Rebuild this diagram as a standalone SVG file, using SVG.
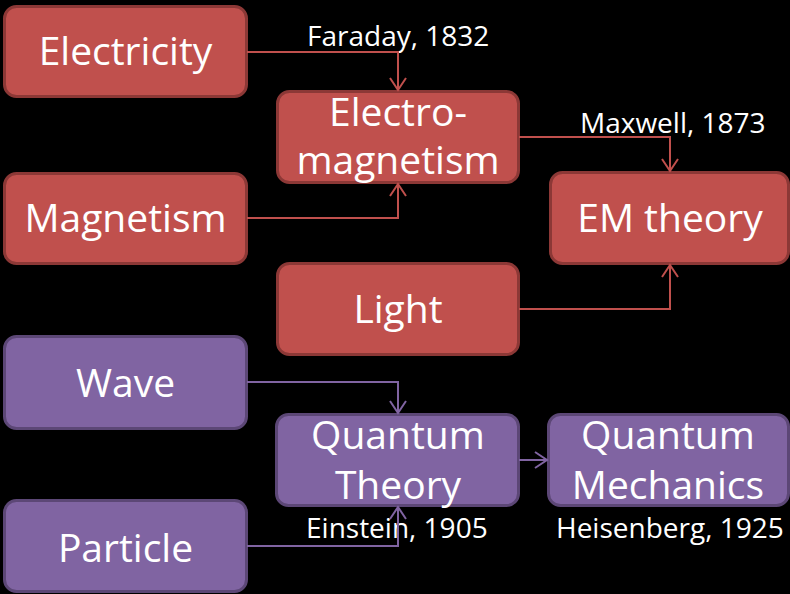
<svg xmlns="http://www.w3.org/2000/svg" width="790" height="594" viewBox="0 0 790 594">
<defs>
<style>
.red{fill:#C0504D;stroke:#8C3836;stroke-width:3}
.pur{fill:#8064A2;stroke:#5C4776;stroke-width:3}
.t{font-family:"Open Sans",Lato,sans-serif;font-size:39px;fill:#fff;text-anchor:middle;font-variant-ligatures:none}
.lab{font-family:"Open Sans",Lato,sans-serif;font-size:28px;fill:#fff}
.cr{fill:none;stroke:#C0504D;stroke-width:2}
.cp{fill:none;stroke:#8064A2;stroke-width:2}
</style>
<marker id="ar" viewBox="-14 -9 16 18" markerWidth="16" markerHeight="18" refX="0" refY="0" orient="auto" markerUnits="userSpaceOnUse">
<path d="M-12,-8 L0,0 L-12,8" fill="none" stroke="#C0504D" stroke-width="2"/>
</marker>
<marker id="ap" viewBox="-14 -9 16 18" markerWidth="16" markerHeight="18" refX="0" refY="0" orient="auto" markerUnits="userSpaceOnUse">
<path d="M-12,-8 L0,0 L-12,8" fill="none" stroke="#8064A2" stroke-width="2"/>
</marker>
</defs>
<rect width="790" height="594" fill="#000"/>
<g id="electricity"><rect class="red" x="4.5" y="6.5" width="242" height="90" rx="12"/><text class="t" x="125.5" y="65">Electricity</text></g>
<g id="electromagnetism"><rect class="red" x="277.5" y="91.5" width="241" height="91" rx="12"/><text class="t" x="398" y="126">Electro-</text><text class="t" x="398" y="174">magnetism</text></g>
<g id="magnetism"><rect class="red" x="4.5" y="173.5" width="242" height="90" rx="12"/><text class="t" x="125.5" y="232">Magnetism</text></g>
<g id="emtheory"><rect class="red" x="550.5" y="172.5" width="238" height="91" rx="12"/><text class="t" x="670" y="232">EM theory</text></g>
<g id="light"><rect class="red" x="277.5" y="263.5" width="241" height="91" rx="12"/><text class="t" x="398" y="323">Light</text></g>
<g id="wave"><rect class="pur" x="4.5" y="336.5" width="242" height="92" rx="12"/><text class="t" x="125.5" y="397">Wave</text></g>
<g id="quantumtheory"><rect class="pur" x="276.5" y="414.5" width="242" height="91" rx="12"/><text class="t" x="398" y="449">Quantum</text><text class="t" x="398" y="499">Theory</text></g>
<g id="quantummechanics"><rect class="pur" x="548.5" y="414.5" width="240" height="91" rx="12"/><text class="t" x="668" y="449">Quantum</text><text class="t" x="668" y="499">Mechanics</text></g>
<g id="particle"><rect class="pur" x="4.5" y="500.5" width="242" height="91" rx="12"/><text class="t" x="125.5" y="562">Particle</text></g>
<g id="labels">
<text class="lab" x="307" y="46">Faraday, 1832</text>
<text class="lab" x="580" y="133">Maxwell, 1873</text>
<text class="lab" x="306" y="538">Einstein, 1905</text>
<text class="lab" x="556" y="538">Heisenberg, 1925</text>
</g>
<g id="connectors">
<path class="cr" d="M247,52 H398 V90" marker-end="url(#ar)"/>
<path class="cr" d="M247,218 H398 V184" marker-end="url(#ar)"/>
<path class="cr" d="M519,137 H670 V171" marker-end="url(#ar)"/>
<path class="cr" d="M519,309 H670 V265" marker-end="url(#ar)"/>
<path class="cp" d="M247,382 H398 V413" marker-end="url(#ap)"/>
<path class="cp" d="M247,546 H398 V507" marker-end="url(#ap)"/>
<path class="cp" d="M519,460 H547" marker-end="url(#ap)"/>
</g>
</svg>
